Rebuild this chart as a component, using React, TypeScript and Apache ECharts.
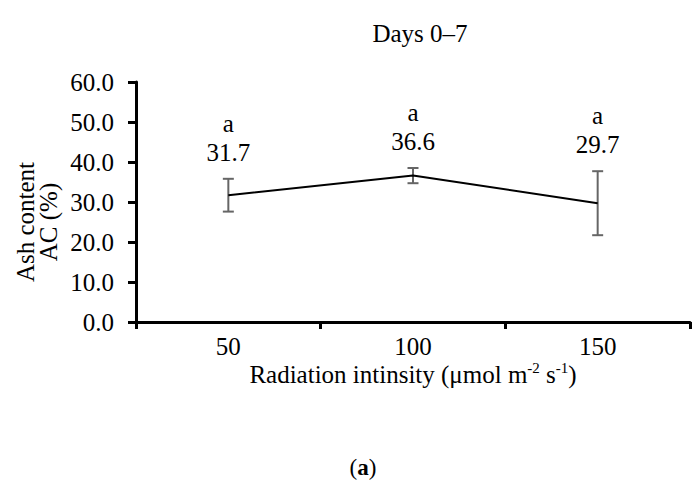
import React, { useEffect, useRef } from "react";
import * as echarts from "echarts";

// Radiation intensity levels (µmol m-2 s-1)
const categories = ["50", "100", "150"];
// Mean ash content (%) and its error half-width
const means = [31.7, 36.6, 29.7];
const errors = [4.1, 1.9, 8.0];
// Significance letters shown above each point
const letters = ["a", "a", "a"];

const FONT = "'Liberation Serif', 'Times New Roman', serif";

export default function App() {
  const ref = useRef<HTMLDivElement>(null);

  useEffect(() => {
    document.body.style.margin = "0";
    if (!ref.current) return;
    const chart = echarts.init(ref.current, null, { renderer: "svg" });

    const errData = means.map((m, i) => [i, m, errors[i], letters[i]]);

    chart.setOption({
      animation: false,
      backgroundColor: "#ffffff",
      textStyle: { fontFamily: FONT, color: "#000" },
      title: {
        text: "Days 0–7",
        left: 415,
        top: 16,
        textAlign: "center",
        textStyle: { fontFamily: FONT, fontSize: 25, fontWeight: "normal", color: "#000" },
      },
      grid: { left: 136, right: 2, top: 82, bottom: 159, containLabel: false },
      xAxis: {
        type: "category",
        data: categories,
        boundaryGap: true,
        axisLine: { lineStyle: { color: "#000", width: 3 } },
        axisTick: { show: true, length: 7, interval: 0, lineStyle: { color: "#000", width: 3 } },
        axisLabel: { fontFamily: FONT, fontSize: 25, color: "#000", margin: 12 },
        name: "Radiation intinsity (μmol m{sup|-2} s{sup|-1})",
        nameLocation: "middle",
        nameGap: 38,
        nameTextStyle: {
          fontFamily: FONT,
          fontSize: 25,
          color: "#000",
          lineHeight: 28,
          rich: {
            sup: { fontFamily: FONT, fontSize: 15, color: "#000", verticalAlign: "top", lineHeight: 15 },
          },
        },
      },
      yAxis: {
        type: "value",
        min: 0,
        max: 60,
        interval: 10,
        axisLine: { show: true, lineStyle: { color: "#000", width: 3 } },
        axisTick: { show: true, length: 8, lineStyle: { color: "#000", width: 3 } },
        splitLine: { show: false },
        axisLabel: {
          fontFamily: FONT,
          fontSize: 25,
          color: "#000",
          margin: 22,
          formatter: (v: number) => v.toFixed(1),
        },
      },
      graphic: [
        {
          type: "text",
          x: 37,
          y: 222,
          rotation: Math.PI / 2,
          style: {
            text: "Ash content\nAC (%)",
            fontFamily: FONT,
            fontSize: 25,
            lineHeight: 23,
            fill: "#000",
            align: "center",
            verticalAlign: "middle",
          },
        },
        {
          type: "text",
          x: 363,
          y: 467,
          style: {
            text: "({b|a})",
            fontFamily: FONT,
            fontSize: 23,
            fill: "#000",
            align: "center",
            verticalAlign: "middle",
            rich: { b: { fontFamily: FONT, fontSize: 23, fontWeight: "bold", fill: "#000" } },
          },
        },
      ],
      series: [
        {
          type: "line",
          data: means,
          symbol: "none",
          lineStyle: { color: "#000", width: 2 },
          z: 3,
        },
        {
          type: "custom",
          data: errData,
          z: 2,
          renderItem: (params: any, api: any) => {
            const idx = api.value(0);
            const m = api.value(1);
            const e = api.value(2);
            const top = api.coord([idx, m + e]);
            const bot = api.coord([idx, m - e]);
            const cap = 5.5;
            const stroke = { stroke: "#666", lineWidth: 2 };
            const i = params.dataIndex;
            return {
              type: "group",
              children: [
                { type: "line", shape: { x1: top[0], y1: top[1], x2: bot[0], y2: bot[1] }, style: stroke },
                { type: "line", shape: { x1: top[0] - cap, y1: top[1], x2: top[0] + cap, y2: top[1] }, style: stroke },
                { type: "line", shape: { x1: bot[0] - cap, y1: bot[1], x2: bot[0] + cap, y2: bot[1] }, style: stroke },
                {
                  type: "text",
                  x: top[0],
                  y: top[1] - 12,
                  style: {
                    text: letters[i] + "\n" + means[i].toFixed(1),
                    fontFamily: FONT,
                    fontSize: 25,
                    lineHeight: 29,
                    fill: "#000",
                    align: "center",
                    verticalAlign: "bottom",
                  },
                },
              ],
            };
          },
        },
      ],
    });

    return () => chart.dispose();
  }, []);

  return <div ref={ref} style={{ width: 692, height: 481 }} />;
}
